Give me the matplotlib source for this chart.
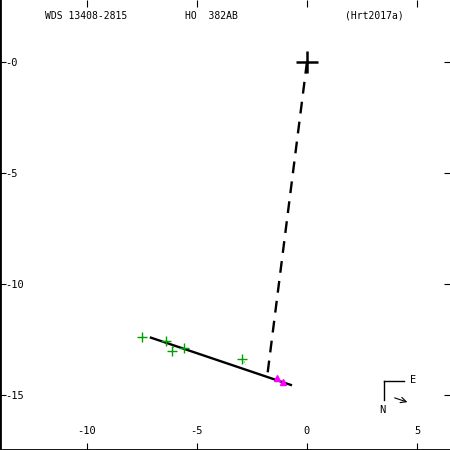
import matplotlib
matplotlib.use("Agg")
import matplotlib.pyplot as plt

# measured positions (green) and recent ones (magenta)
meas_x = [-7.49, -6.42, -6.12, -5.58, -2.94]
meas_y = [-12.40, -12.55, -13.00, -12.87, -13.39]
fit_x = [-7.35, -6.38, -6.05, -5.55, -2.78]
fit_y = [-12.42, -12.60, -12.82, -12.86, -13.62]
new_x = [-1.35, -1.10]
new_y = [-14.25, -14.41]

orbit_x = [-7.09, -0.73]
orbit_y = [-12.42, -14.55]
node_x = [0.0, -1.79]
node_y = [0.0, -14.02]

xticks = [-10, -5, 0, 5]
xlabels = ["-10", "-5", "0", "5"]
yticks = [0, -5, -10, -15]
ylabels = ["-0", "-5", "-10", "-15"]

plt.rcParams['font.family'] = ['DejaVu Sans Mono']
fig = plt.figure(figsize=(4.5, 4.5), dpi=100)
ax = fig.add_axes([0, 0, 1, 1])
ax.set_xlim(-13.95, 6.5)
ax.set_ylim(-17.48, 2.79)

ax.plot(node_x, node_y, color='black', lw=1.7, ls=(0, (5, 3.5)))
ax.plot(orbit_x, orbit_y, color='black', lw=1.7)
for mx, my, fx, fy in zip(meas_x, meas_y, fit_x, fit_y):
    ax.plot([mx, fx], [my, fy], color='#00a000', lw=0.8, ls=':')
ax.plot(meas_x, meas_y, '+', color='#00a000', ms=7, mew=1)
ax.plot(new_x, new_y, '^', color='#ff00ff', ms=4, mec='#ff00ff')
ax.plot([0], [0], '+', color='black', ms=16, mew=1.8)

ax.set_xticks(xticks, xlabels)
ax.set_yticks(yticks, ylabels)
ax.tick_params(axis='x', direction='in', length=5, pad=-17, labelsize=7.5,
               top=True)
ax.tick_params(axis='y', direction='in', length=4, pad=-4, labelsize=7.5,
               right=True)
for lab in ax.get_yticklabels():
    lab.set_horizontalalignment('left')
for s in ['left', 'bottom']:
    ax.spines[s].set_linewidth(2)
for s in ['top', 'right']:
    ax.spines[s].set_visible(False)

ax.text(45 / 450, 1 - 16 / 450, "WDS 13408-2815", transform=ax.transAxes,
        fontsize=7, va='center')
ax.text(185 / 450, 1 - 16 / 450, "HO  382AB", transform=ax.transAxes,
        fontsize=7, va='center')
ax.text(345 / 450, 1 - 16 / 450, "(Hrt2017a)", transform=ax.transAxes,
        fontsize=7, va='center')

# compass
t = ax.transAxes
ax.plot([384 / 450, 404 / 450], [1 - 381 / 450, 1 - 381 / 450], color='black', lw=1, transform=t)
ax.plot([384 / 450, 384 / 450], [1 - 381 / 450, 1 - 400 / 450], color='black', lw=1, transform=t)
ax.text(410 / 450, 1 - 380 / 450, "E", transform=t, fontsize=7.5, ha='left', va='center')
ax.text(382 / 450, 1 - 410 / 450, "N", transform=t, fontsize=7.5, ha='center', va='center')
ax.annotate("", xy=(410 / 450, 1 - 403 / 450), xytext=(392 / 450, 1 - 397 / 450),
            xycoords=t, textcoords=t,
            arrowprops=dict(arrowstyle='->', lw=0.8, color='black'))

fig.savefig("out.png", dpi=100)
